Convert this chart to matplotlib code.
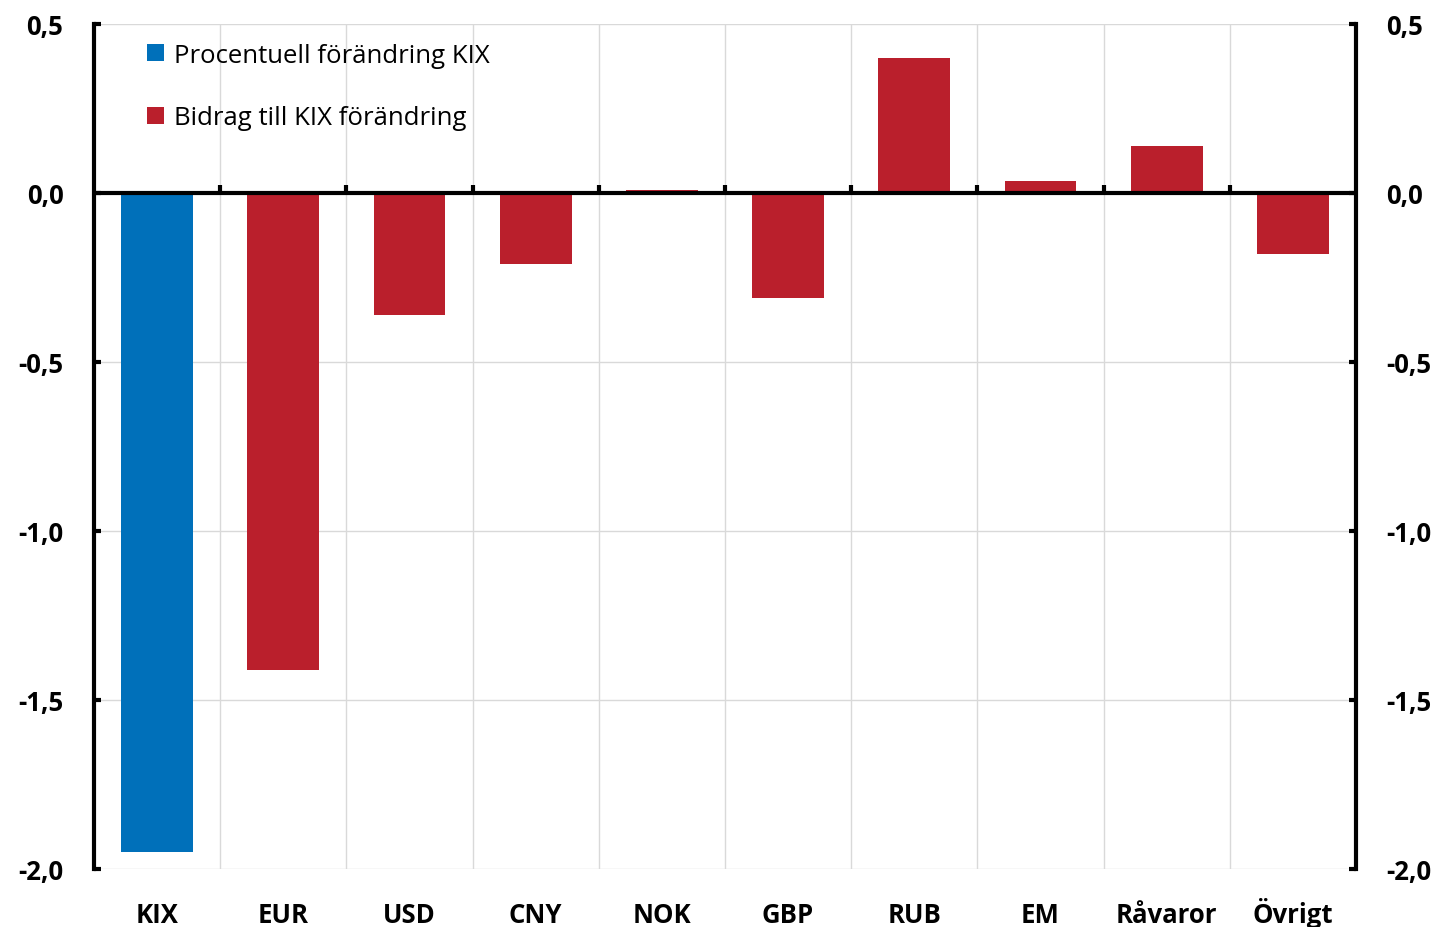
import matplotlib
matplotlib.use("Agg")
import matplotlib.pyplot as plt
from matplotlib.patches import Patch
from matplotlib.ticker import FuncFormatter

categories = ["KIX", "EUR", "USD", "CNY", "NOK", "GBP", "RUB", "EM", "Råvaror", "Övrigt"]
values = [-1.95, -1.41, -0.36, -0.21, 0.01, -0.31, 0.40, 0.035, 0.14, -0.18]
legend_labels = ["Procentuell förändring KIX", "Bidrag till KIX förändring"]
yticks = [0.5, 0.0, -0.5, -1.0, -1.5, -2.0]

BLUE = "#0070BA"
RED = "#BA1F2C"
FONT = ["Open Sans", "DejaVu Sans"]
plt.rcParams["font.family"] = FONT

fig = plt.figure(figsize=(14.4, 9.28), dpi=100)
ax = fig.add_axes([94/1440, 1-870/928, (1356-94)/1440, (870-25)/928])

x = list(range(len(categories)))
colors = [BLUE] + [RED] * (len(categories) - 1)
ax.bar(x, values, width=0.57, color=colors, zorder=2)

ax.set_xlim(-0.5, len(categories) - 0.5)
ax.set_ylim(-2.0, 0.5)

# grid
for b in [i + 0.5 for i in range(len(categories) - 1)]:
    ax.axvline(b, color="#D9D9D9", lw=1, zorder=0)
for yv in yticks:
    if yv != 0:
        ax.axhline(yv, color="#D9D9D9", lw=1, zorder=0)

# zero line
ax.axhline(0, color="black", lw=3, zorder=3)

# spines
for s in ["top", "bottom"]:
    ax.spines[s].set_visible(False)
for s in ["left", "right"]:
    ax.spines[s].set_linewidth(3)
    ax.spines[s].set_zorder(4)

ax.set_yticks(yticks)
ax.yaxis.set_major_formatter(FuncFormatter(lambda v, p: f"{v:.1f}".replace(".", ",")))
ax.tick_params(axis="y", direction="in", length=5, width=3, left=True, right=True,
               labelleft=True, labelright=True, pad=22, labelsize=18.5)
for t in ax.yaxis.get_major_ticks():
    t.label1.set_fontweight("bold")
    t.label2.set_fontweight("bold")

ax.set_xticks(x)
ax.set_xticklabels(categories, fontsize=18.5, fontweight="bold")
ax.tick_params(axis="x", length=0, pad=38)
for lab in ax.get_xticklabels():
    lab.set_va("baseline")

# small tick marks on zero line at category boundaries
sec = ax.secondary_xaxis(0.8)
sec.set_xticks([i + 0.5 for i in range(len(categories) - 1)])
sec.set_xticklabels([])
sec.tick_params(direction="out", length=6, width=3)
sec.spines["bottom"].set_visible(False)
sec.spines["top"].set_visible(False)

handles = [Patch(facecolor=BLUE), Patch(facecolor=RED)]
ax.legend(handles, legend_labels, loc="upper left", bbox_to_anchor=(0.024, 1.005),
          frameon=False, fontsize=18.5, handlelength=0.65, handleheight=0.65,
          handletextpad=0.4, labelspacing=1.45)

fig.savefig("out.png", dpi=100)
